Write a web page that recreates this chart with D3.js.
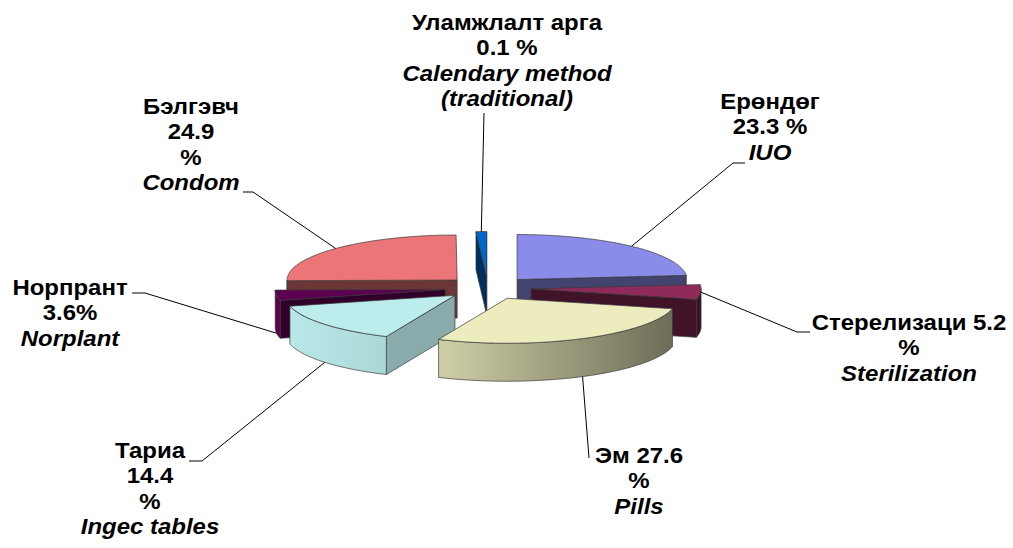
<!DOCTYPE html>
<html>
<head>
<meta charset="utf-8">
<script src="https://cdn.jsdelivr.net/npm/d3@7"></script>
<style>
  body { margin: 0; background: #fff; }
  svg { display: block; }
  text { font-family: "Liberation Sans", Arial, sans-serif; font-weight: bold; font-size: 22px; fill: #000; }
</style>
</head>
<body>
<svg id="chart" width="1013" height="548"></svg>
<script>
// data, clockwise from 12 o'clock
const namesMn = ["Ерөндөг", "Стерелизаци", "Эм", "Тариа", "Норпрант", "Бэлгэвч", "Уламжлалт арга"]
const namesEn = [["IUO"], ["Sterilization"], ["Pills"], ["Ingec tables"], ["Norplant"], ["Condom"], ["Calendary method", "(traditional)"]]
const values = [23.3, 5.2, 27.6, 14.4, 3.6, 24.9, 0.1]
const colors = ["#8b8ce9", "#8e2b5a", "#ececbe", "#bdecec", "#5c0052", "#ec7677", "#0066cc"]

// how each label wraps (as in the original)
const wraps = [
  d => [d.mn, `${d.v} %`],
  d => [`${d.mn} ${d.v}`, "%"],
  d => [`${d.mn} ${d.v}`, "%"],
  d => [d.mn, `${d.v}`, "%"],
  d => [d.mn, `${d.v}%`],
  d => [d.mn, `${d.v}`, "%"],
  d => [d.mn, `${d.v} %`]
]

// label layout: centre x, first baseline, leader end point and stub end
const labelPos = [
  { x: 770, y: 109, lx: 733, ly: 163, sx: 745 },
  { x: 909, y: 330, lx: 797, ly: 332, sx: 810 },
  { x: 639, y: 463, lx: 589, ly: 458, sx: 589 },
  { x: 150, y: 458, lx: 202, ly: 461, sx: 189 },
  { x: 70,  y: 295, lx: 145, ly: 293, sx: 132 },
  { x: 191, y: 114, lx: 253, ly: 192, sx: 243 },
  { x: 507, y: 30,  lx: 484, ly: 113, sx: 484 }
]

const cx = 488, cy = 288, rx = 170, ry = 45, depth = 38, explode = 0.254
const lineH = 25.5
const stretch = 1.09   // the original text is a bit wide
const minSpan = 3.6 * Math.PI / 180  // tiny slices still need to show

const svg = d3.select("#chart")
svg.append("rect").attr("width", 1013).attr("height", 548).attr("fill", "#fff")
const defs = svg.append("defs")

const pie = d3.pie().sort(null).value(d => d)
const slices = pie(values).map((p, i) => {
  let a0 = p.startAngle, a1 = p.endAngle
  if (a1 - a0 < minSpan) a0 = a1 - minSpan
  const b = (a0 + a1) / 2
  const off = [explode * rx * Math.sin(b), -explode * ry * Math.cos(b)]
  return { i, a0, a1, b, off, color: colors[i], v: values[i], mn: namesMn[i], en: namesEn[i] }
})

function pt(a, r, z, o) {
  return [cx + o[0] + r * rx * Math.sin(a), cy + o[1] - r * ry * Math.cos(a) + z]
}
function rimPts(a0, a1, z, o) {
  const n = Math.max(2, Math.ceil((a1 - a0) / (Math.PI / 180)) + 1)
  return d3.range(n).map(k => pt(a0 + (a1 - a0) * k / (n - 1), 1, z, o))
}
const line = d3.line()
const poly = pts => line(pts) + "Z"
function shade(c, f) {
  const r = d3.rgb(c)
  return d3.rgb(r.r * f, r.g * f, r.b * f).formatHex()
}

// rim gradients, lighter at left, dark at right
slices.forEach(s => {
  const g = defs.append("linearGradient")
    .attr("id", "rim" + s.i)
    .attr("gradientUnits", "userSpaceOnUse")
    .attr("x1", cx - rx * 1.3).attr("x2", cx + rx * 1.3)
    .attr("y1", 0).attr("y2", 0)
  ;[[0, 1.0], [0.4, 0.87], [1, 0.4]].forEach(([o, f]) =>
    g.append("stop").attr("offset", o).attr("stop-color", shade(s.color, f)))
})

const stroke = "#3a3a3a", sw = 0.7
const gPie = svg.append("g")

// back to front
const order = slices.slice().sort((a, b) => (-Math.cos(a.b)) - (-Math.cos(b.b)))

order.forEach(s => {
  const g = gPie.append("g")
  const apexT = pt(0, 0, 0, s.off), apexB = pt(0, 0, depth, s.off)

  // cut faces
  const faces = []
  if (Math.sin(s.a0) < 0) faces.push({ a: s.a0, nx: -Math.cos(s.a0) })
  if (Math.sin(s.a1) > 0) faces.push({ a: s.a1, nx: Math.cos(s.a1) })
  faces.forEach(f => {
    g.append("path")
      .attr("d", poly([apexT, pt(f.a, 1, 0, s.off), pt(f.a, 1, depth, s.off), apexB]))
      .attr("fill", shade(s.color, 0.45 + 0.3 * Math.max(0, f.nx)))
      .attr("stroke", stroke).attr("stroke-width", sw)
  })

  // front part of the rim
  const r0 = Math.max(s.a0, Math.PI / 2), r1 = Math.min(s.a1, Math.PI * 1.5)
  if (r1 > r0) {
    const top = rimPts(r0, r1, 0, s.off)
    const bot = rimPts(r0, r1, depth, s.off).reverse()
    g.append("path")
      .attr("d", poly(top.concat(bot)))
      .attr("fill", `url(#rim${s.i})`)
      .attr("stroke", stroke).attr("stroke-width", sw)
  }

  // top face
  g.append("path")
    .attr("d", poly([apexT].concat(rimPts(s.a0, s.a1, 0, s.off))))
    .attr("fill", s.color)
    .attr("stroke", stroke).attr("stroke-width", sw)
})

// leader lines
const gLead = svg.append("g")
slices.forEach(s => {
  const L = labelPos[s.i]
  const front = -Math.cos(s.b) > 0.1
  const p = pt(s.b, 1, front ? depth : 0, s.off)
  gLead.append("path")
    .attr("d", line([p, [L.lx, L.ly], [L.sx, L.ly]]))
    .attr("fill", "none")
    .attr("stroke", "#000").attr("stroke-width", 1)
})

// labels
const gLab = svg.append("g").attr("text-anchor", "middle")
slices.forEach(s => {
  const L = labelPos[s.i]
  const lines = wraps[s.i](s).map(t => ({ t, it: false }))
    .concat(s.en.map(t => ({ t, it: true })))
  const txt = gLab.append("text")
    .attr("transform", `translate(${L.x},0) scale(${stretch},1)`)
    .attr("x", 0).attr("y", L.y)
  lines.forEach((l, k) => {
    txt.append("tspan")
      .attr("x", 0)
      .attr("y", L.y + k * lineH)
      .attr("font-style", l.it ? "italic" : "normal")
      .text(l.t)
  })
})
</script>
</body>
</html>
